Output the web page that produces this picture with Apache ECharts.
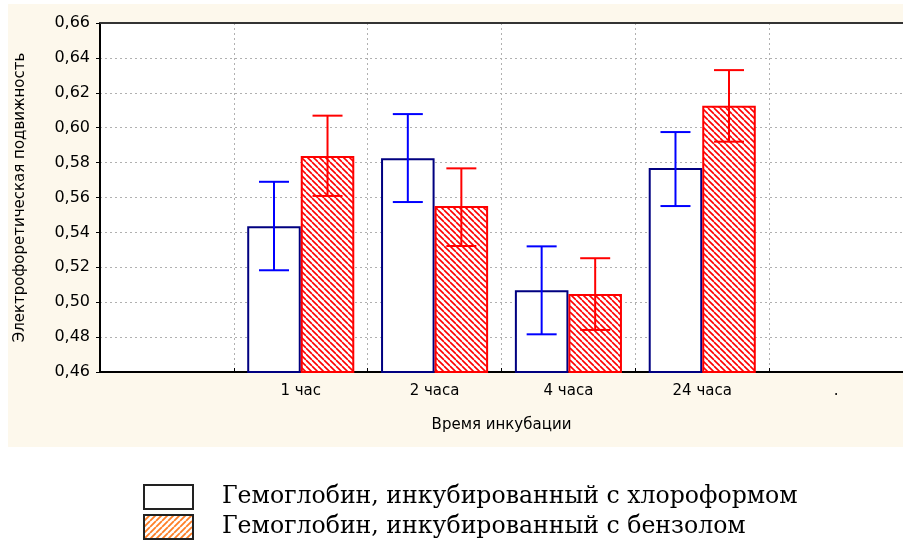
<!DOCTYPE html>
<html>
<head>
<meta charset="utf-8">
<script src="https://cdn.jsdelivr.net/npm/echarts@6/dist/echarts.min.js"></script>
<style>html,body{margin:0;padding:0;background:#fff}#c{width:903px;height:545px}</style>
</head>
<body>
<div id="c"></div>
<script>
const categories = ['', '1 час', '2 часа', '4 часа', '24 часа', '.'];
const seriesNames = ['Гемоглобин, инкубированный с хлороформом', 'Гемоглобин, инкубированный с бензолом'];
const chloroform     = [null, 0.5435, 0.5825, 0.5068, 0.5769, null];
const chloroformLow  = [null, 0.5183, 0.5574, 0.4816, 0.5551, null];
const chloroformHigh = [null, 0.5690, 0.6078, 0.5320, 0.5975, null];
const benzene        = [null, 0.5838, 0.5551, 0.5047, 0.6126, null];
const benzeneLow     = [null, 0.5609, 0.5322, 0.4841, 0.5920, null];
const benzeneHigh    = [null, 0.6069, 0.5767, 0.5252, 0.6330, null];
const yMin = 0.46, yMax = 0.66, yStep = 0.02;

function hatch(color, size, dir, lw, bg) {
  const c = document.createElement('canvas');
  c.width = c.height = size;
  const ctx = c.getContext('2d');
  ctx.fillStyle = bg; ctx.fillRect(0, 0, size, size);
  ctx.strokeStyle = color; ctx.lineWidth = lw;
  ctx.beginPath();
  for (let k = -1; k <= 1; k++) {
    if (dir === '\\') { ctx.moveTo(k * size, 0); ctx.lineTo(k * size + size, size); }
    else { ctx.moveTo(k * size, size); ctx.lineTo(k * size + size, 0); }
  }
  ctx.stroke();
  return c;
}
const redHatch = { image: hatch('#ff0000', 6, '\\', 1.6, '#ffffff'), repeat: 'repeat' };
const orangeHatch = { image: hatch('#ff7f27', 6, '/', 1.8, '#ffffff'), repeat: 'repeat' };

function errData(low, high) {
  const out = [];
  low.forEach((l, i) => { if (l != null) out.push([i, l, high[i]]); });
  return out;
}
function errRender(sign, color) {
  return function (params, api) {
    const i = api.value(0);
    const band = api.size([1, 0])[0];
    const off = sign * band * 0.2;
    const lo = api.coord([i, api.value(1)]);
    const hi = api.coord([i, api.value(2)]);
    const x = lo[0] + off;
    const cap = 15;
    const st = { stroke: color, lineWidth: 2 };
    return {
      type: 'group',
      children: [
        { type: 'line', shape: { x1: x, y1: lo[1], x2: x, y2: hi[1] }, style: st },
        { type: 'line', shape: { x1: x - cap, y1: lo[1], x2: x + cap, y2: lo[1] }, style: st },
        { type: 'line', shape: { x1: x - cap, y1: hi[1], x2: x + cap, y2: hi[1] }, style: st }
      ]
    };
  };
}

const chart = echarts.init(document.getElementById('c'), null, { renderer: 'canvas' });
const sans = 'DejaVu Sans, sans-serif';
const serif = 'DejaVu Serif, serif';
function legendOf(idx, top, itemStyle) {
  return {
    orient: 'vertical', left: 143, top: top, padding: 0,
    itemWidth: 49, itemHeight: 24, itemGap: 0,
    selectedMode: false,
    textStyle: { fontFamily: serif, fontSize: 23.6, color: '#000', padding: [0, 0, 0, 24] },
    data: [{ name: seriesNames[idx], icon: 'rect', itemStyle: itemStyle }]
  };
}
chart.setOption({
  backgroundColor: '#ffffff',
  animation: false,
  graphic: [{
    type: 'rect', z: -100, silent: true,
    shape: { x: 8, y: 4, width: 895, height: 443 },
    style: { fill: '#fdf8ec' }
  }],
  grid: {
    left: 100, right: 0, top: 23, bottom: 173,
    show: true, backgroundColor: '#ffffff', borderWidth: 0
  },
  legend: [
    legendOf(0, 484, { color: '#ffffff', borderColor: '#222222', borderWidth: 2 }),
    legendOf(1, 514, { color: orangeHatch, borderColor: '#222222', borderWidth: 2 })
  ],
  xAxis: [{
    type: 'category', data: categories,
    axisLine: { lineStyle: { color: '#000', width: 2 } },
    axisTick: { show: true, inside: true, length: 4, interval: 0, lineStyle: { color: '#000' } },
    axisLabel: { interval: 0, color: '#000', fontFamily: sans, fontSize: 15, margin: 12 },
    splitLine: { show: true, interval: 0, lineStyle: { color: '#b0b0b0', type: [2, 3], width: 1 } },
    name: 'Время инкубации', nameLocation: 'middle', nameGap: 46,
    nameTextStyle: { color: '#000', fontFamily: sans, fontSize: 15 }
  }, {
    type: 'category', data: categories, position: 'top',
    axisLine: { show: true, lineStyle: { color: '#333', width: 2 } },
    axisTick: { show: false }, axisLabel: { show: false }, splitLine: { show: false }
  }],
  yAxis: {
    type: 'value', min: yMin, max: yMax, interval: yStep,
    axisLine: { show: true, lineStyle: { color: '#000', width: 2 } },
    axisTick: { show: true, length: 4, lineStyle: { color: '#000' } },
    axisLabel: { color: '#000', fontFamily: sans, fontSize: 16, margin: 10,
      formatter: v => v.toFixed(2).replace('.', ',') },
    splitLine: { show: true, lineStyle: { color: '#b0b0b0', type: [2, 3], width: 1 } },
    name: 'Электрофоретическая подвижность', nameLocation: 'middle', nameGap: 72,
    nameTextStyle: { color: '#000', fontFamily: sans, fontSize: 15 }
  },
  series: [
    { name: seriesNames[0], type: 'bar', data: chloroform, barWidth: '40%', barGap: '0%',
      itemStyle: { color: '#ffffff', borderColor: '#000080', borderWidth: 2 } },
    { name: seriesNames[1], type: 'bar', data: benzene, barWidth: '40%', barGap: '0%',
      itemStyle: { color: redHatch, borderColor: '#ff0000', borderWidth: 2 } },
    { type: 'custom', data: errData(chloroformLow, chloroformHigh), renderItem: errRender(-1, '#0000ff'),
      encode: { x: 0, y: [1, 2] }, z: 5 },
    { type: 'custom', data: errData(benzeneLow, benzeneHigh), renderItem: errRender(1, '#ff0000'),
      encode: { x: 0, y: [1, 2] }, z: 5 }
  ]
});
</script>
</body>
</html>
